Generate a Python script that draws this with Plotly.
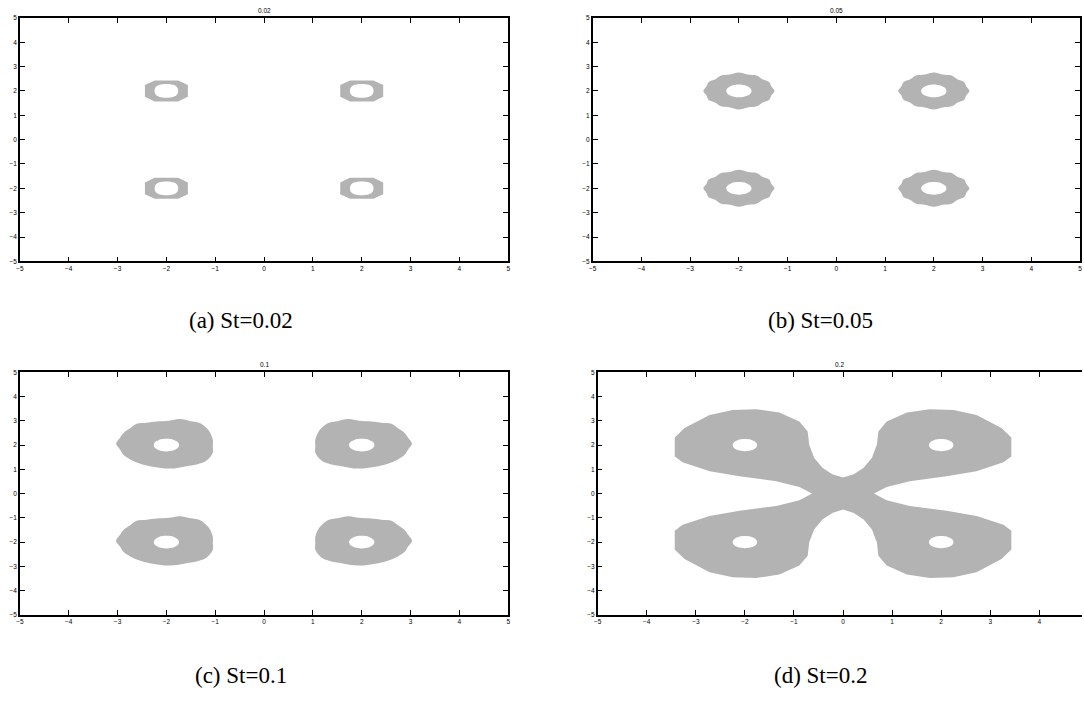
import math
import plotly.graph_objects as go

W, H = 1084, 704

# ---- data -----------------------------------------------------------------
st_values = ["0.02", "0.05", "0.1", "0.2"]
captions = ["(a) St=0.02", "(b) St=0.05", "(c) St=0.1", "(d) St=0.2"]
tick_vals = [-5, -4, -3, -2, -1, 0, 1, 2, 3, 4, 5]
ring_centers = [(-2, 2), (2, 2), (-2, -2), (2, -2)]

# St=0.02: octagonal rings (offsets from ring centre)
a_outer = [(0.24, 0.43), (-0.24, 0.43), (-0.44, 0.24), (-0.44, -0.24),
           (-0.24, -0.43), (0.24, -0.43), (0.44, -0.24), (0.44, 0.24)]
a_inner = [(0.14, 0.25), (-0.14, 0.25), (-0.23, 0.12), (-0.23, -0.12),
           (-0.14, -0.25), (0.14, -0.25), (0.23, -0.12), (0.23, 0.12)]

# St=0.05: outer radius every 15 degrees, starting at angle 0
b_outer_r = [0.73, 0.69, 0.72, 0.68, 0.73, 0.70, 0.76, 0.70, 0.73, 0.68, 0.72, 0.69,
             0.73, 0.69, 0.72, 0.68, 0.73, 0.70, 0.76, 0.70, 0.73, 0.68, 0.72, 0.69]

# St=0.1: outer boundary offsets of the left-hand rings
c_outer = [(-1.03, 0.05), (-0.95, 0.30), (-0.88, 0.50), (-0.75, 0.68), (-0.61, 0.88),
           (-0.40, 0.92), (-0.20, 0.97), (0.05, 1.00), (0.27, 1.07), (0.50, 0.98),
           (0.68, 0.91), (0.80, 0.74), (0.88, 0.56), (0.95, 0.22), (0.95, -0.05),
           (0.95, -0.32), (0.81, -0.66), (0.62, -0.80), (0.41, -0.87), (0.07, -0.97),
           (-0.34, -0.87), (-0.55, -0.76), (-0.74, -0.59), (-0.88, -0.40), (-0.95, -0.18)]

# St=0.2: upper-left quarter of the merged region, from the neck to the left notch
d_quarter = [(0.0, 0.66), (-0.22, 0.80), (-0.42, 1.07), (-0.59, 1.48), (-0.69, 2.02),
             (-0.72, 2.56), (-0.89, 2.97), (-1.30, 3.34), (-1.77, 3.48), (-2.25, 3.45),
             (-2.72, 3.24), (-3.23, 2.70), (-3.43, 2.31), (-3.43, 1.53), (-3.27, 1.29),
             (-2.72, 0.92), (-2.11, 0.71), (-1.36, 0.51), (-0.89, 0.27), (-0.63, 0.0)]

hole_r = [None, 0.26, 0.26, 0.25]

GRAY = "rgb(179,179,179)"

# ---- panel placement (pixels) ---------------------------------------------
panels = [
    dict(x0=16, x1=507, top=14, bottom=260, xr=[-5, 5], right_axis=True),
    dict(x0=592, x1=1082, top=14, bottom=260, xr=[-5, 5], right_axis=True),
    dict(x0=16, x1=507, top=372, bottom=617, xr=[-5, 5], right_axis=True),
    dict(x0=597, x1=1084, top=372, bottom=617, xr=[-5, 4.87], right_axis=False),
]
caption_pos = [(238, 320), (821, 320), (238, 678), (821, 678)]


def close(pts):
    return pts + [pts[0]]


def polar_outline(radii):
    n = len(radii)
    return [(r * math.cos(2 * math.pi * k / n), r * math.sin(2 * math.pi * k / n))
            for k, r in enumerate(radii)]


def circle(r, n=20):
    return [(r * math.cos(2 * math.pi * k / n), r * math.sin(2 * math.pi * k / n))
            for k in range(n)]


def shifted(pts, cx, cy, fx=1, fy=1):
    return [(cx + fx * x, cy + fy * y) for x, y in pts]


def path_xy(polys):
    xs, ys = [], []
    for p in polys:
        p = close(p)
        xs += [q[0] for q in p] + [None]
        ys += [q[1] for q in p] + [None]
    return xs, ys


fig = go.Figure()

for i in range(4):
    xa = "x" if i == 0 else f"x{i + 1}"
    ya = "y" if i == 0 else f"y{i + 1}"
    outer_polys, inner_polys = [], []
    shape = "linear"
    if i == 0:
        for cx, cy in ring_centers:
            outer_polys.append(shifted(a_outer, cx, cy))
            inner_polys.append(shifted(a_inner, cx, cy))
    elif i == 1:
        ob = polar_outline(b_outer_r)
        for cx, cy in ring_centers:
            outer_polys.append(shifted(ob, cx, cy))
            inner_polys.append(shifted(circle(hole_r[i]), cx, cy))
        shape = "spline"
    elif i == 2:
        for cx, cy in ring_centers:
            fx = 1 if cx < 0 else -1
            outer_polys.append(shifted(c_outer, cx, cy, fx=fx))
            inner_polys.append(shifted(circle(hole_r[i]), cx, cy))
        shape = "spline"
    else:
        q = d_quarter
        lower_left = [(x, -y) for x, y in reversed(q)][1:]
        lower_right = [(-x, -y) for x, y in q][1:]
        upper_right = [(-x, y) for x, y in reversed(q)][1:-1]
        outer_polys.append(q + lower_left + lower_right + upper_right)
        for cx, cy in ring_centers:
            inner_polys.append(shifted(circle(hole_r[i]), cx, cy))

    xs, ys = path_xy(outer_polys)
    fig.add_trace(go.Scatter(x=xs, y=ys, mode="lines", fill="toself",
                             fillcolor=GRAY, line=dict(width=0, color=GRAY, shape=shape),
                             hoverinfo="skip", showlegend=False, xaxis=xa, yaxis=ya))
    xs, ys = path_xy(inner_polys)
    fig.add_trace(go.Scatter(x=xs, y=ys, mode="lines", fill="toself",
                             fillcolor="white", line=dict(width=0, color="white", shape="spline"),
                             hoverinfo="skip", showlegend=False, xaxis=xa, yaxis=ya))

tick_font = dict(family="Liberation Sans, Arial, sans-serif", size=6.5, color="black")
layout = dict(width=W, height=H, autosize=False, margin=dict(l=0, r=0, t=0, b=0),
              paper_bgcolor="white", plot_bgcolor="white", showlegend=False)
annotations = []
for i, p in enumerate(panels):
    kx = "xaxis" if i == 0 else f"xaxis{i + 1}"
    ky = "yaxis" if i == 0 else f"yaxis{i + 1}"
    ya = "y" if i == 0 else f"y{i + 1}"
    xa = "x" if i == 0 else f"x{i + 1}"
    common = dict(showline=True, linecolor="black", linewidth=1.6, ticks="inside",
                  ticklen=5, tickwidth=1, tickcolor="black", tickvals=tick_vals,
                  tickfont=tick_font, showgrid=False, zeroline=False, fixedrange=True)
    layout[kx] = dict(common, domain=[p["x0"] / W, min(p["x1"] / W, 1.0)],
                      range=p["xr"], anchor=ya, mirror="ticks")
    layout[ky] = dict(common, domain=[1 - p["bottom"] / H, 1 - p["top"] / H],
                      range=[-5, 5], anchor=xa,
                      mirror="ticks" if p["right_axis"] else False)
    annotations.append(dict(text=st_values[i], xref="paper", yref="paper",
                            x=(p["x0"] + min(p["x1"], p["x0"] + 491)) / 2 / W,
                            y=1 - (p["top"] - 7.5) / H, showarrow=False,
                            xanchor="center", yanchor="middle",
                            font=dict(family="Liberation Sans, Arial, sans-serif",
                                      size=6.5, color="black")))
    cx, cy = caption_pos[i]
    annotations.append(dict(text=captions[i], xref="paper", yref="paper",
                            x=cx / W, y=1 - cy / H, showarrow=False,
                            xanchor="center", yanchor="middle",
                            font=dict(family="Liberation Serif, DejaVu Serif, serif",
                                      size=23, color="black")))
layout["annotations"] = annotations
fig.update_layout(**layout)

fig.write_html("out.html")
